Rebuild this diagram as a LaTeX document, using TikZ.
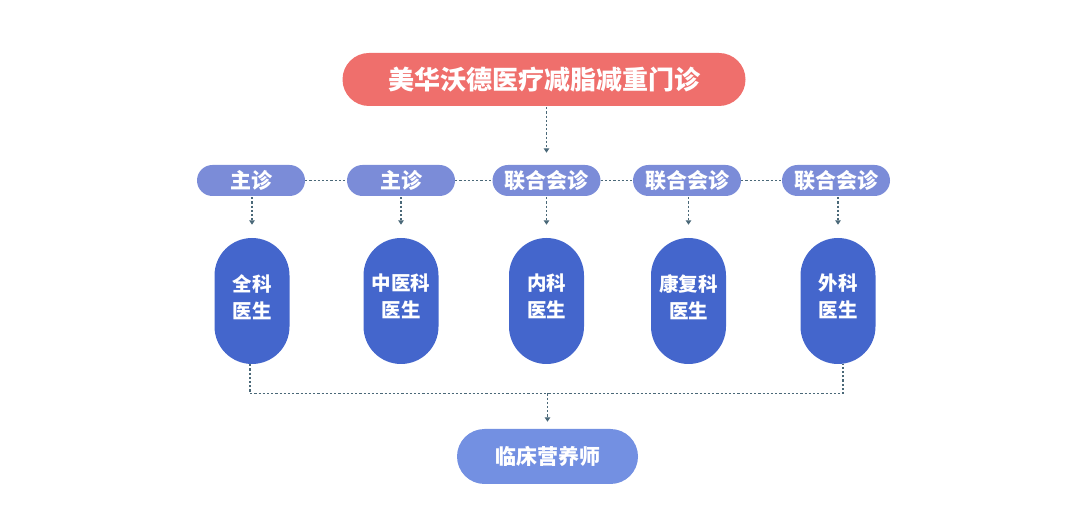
\documentclass[tikz,border=0pt]{standalone}
\usepackage{fontspec}
\newfontfamily\cjk{Noto Sans CJK SC}
\usetikzlibrary{arrows.meta,positioning}
\definecolor{topred}{HTML}{EF6F6C}
\definecolor{pillblue}{HTML}{7B8CD8}
\definecolor{docblue}{HTML}{4466CC}
\definecolor{botblue}{HTML}{7390E2}
\definecolor{linec}{HTML}{4A6878}
\newcommand{\doctext}[1]{\raisebox{-1pt}[0pt][0pt]{\parbox{60pt}{\centering #1}}}
\tikzset{
  topbox/.style={rounded corners=26.5pt, fill=topred, minimum width=403pt, minimum height=53pt, text=white, font=\cjk\bfseries\fontsize{26}{26}\selectfont, inner sep=0pt},
  pill/.style={rounded corners=15.5pt, fill=pillblue, minimum width=108pt, minimum height=31pt, text=white, font=\cjk\bfseries\fontsize{21}{21}\selectfont, inner sep=0pt},
  doc/.style={rounded corners=37.5pt, fill=docblue, minimum width=75pt, minimum height=126pt, text=white, font=\cjk\bfseries\fontsize{19.5}{27}\selectfont, align=center, inner sep=0pt},
  botbox/.style={rounded corners=27.5pt, fill=botblue, minimum width=181pt, minimum height=55pt, text=white, font=\cjk\bfseries\fontsize{21}{21}\selectfont, inner sep=0pt},
  conn/.style={draw=linec, line width=1.8pt, dash pattern=on 2.2pt off 2pt},
  arr/.style={conn, -{Triangle[length=4.5pt,width=5.5pt]}}
}
\begin{document}
\begin{tikzpicture}[x=1pt,y=-1pt]
\useasboundingbox (0,0) rectangle (1080,526);
\node[topbox] (top) at (544,79.5) {美华沃德医疗减脂减重门诊};
\node[pill] (p1) at (251,180.5) {主诊};
\node[pill] (p2) at (401,180.5) {主诊};
\node[pill] (p3) at (546.5,180.5) {联合会诊};
\node[pill] (p4) at (687,180.5) {联合会诊};
\node[pill] (p5) at (836,180.5) {联合会诊};
\node[doc] (d1) at (252,301) {\doctext{全科\\医生}};
\node[doc] (d2) at (401,301) {\doctext{中医科\\医生}};
\node[doc] (d3) at (546.5,301) {\doctext{内科\\医生}};
\node[doc] (d4) at (688.5,301) {\doctext{康复科\\医生}};
\node[doc] (d5) at (838,301) {\doctext{外科\\医生}};
\node[botbox] (bot) at (547.5,456.5) {临床营养师};
\draw[arr] ([yshift=-1pt]top.south -| p3.north) -- ([yshift=12pt]p3.north);
\draw[conn] (p1) -- (p2);
\draw[conn] (p2) -- (p3);
\draw[conn] (p3) -- (p4);
\draw[conn] (p4) -- (p5);
\foreach \i in {1,...,5}{
  \draw[arr] ([yshift=-1pt]p\i.south -| d\i.north) -- ([yshift=13pt]d\i.north);
}
\coordinate (jl) at (250,393.5);
\coordinate (jr) at (843,393.5);
\coordinate (jm) at (547.5,393.5);
\draw[conn] ([xshift=-2pt]d1.south) -- (jl) -- (jr) -- ([xshift=5pt]d5.south);
\draw[arr] (jm) -- ([yshift=7pt]bot.north);
\end{tikzpicture}
\end{document}
